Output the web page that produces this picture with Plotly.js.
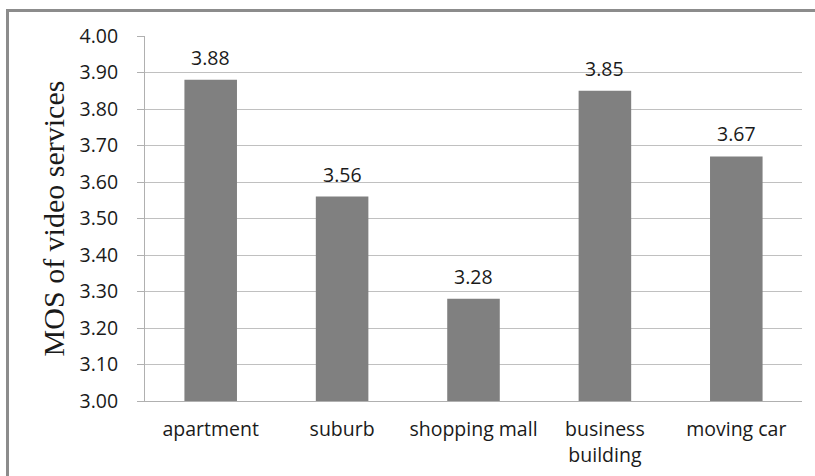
<!DOCTYPE html>
<html>
<head>
<meta charset="utf-8">
<script src="https://cdn.plot.ly/plotly-3.0.1.min.js"></script>
<style>
html,body{margin:0;padding:0;background:#fff;width:815px;height:476px;overflow:hidden;}
#frame{position:absolute;left:6px;top:9px;border-top:3px solid #8c8c8c;border-left:3px solid #8c8c8c;}
#chart{width:806px;height:464px;}
</style>
</head>
<body>
<div id="frame"><div id="chart"></div></div>
<script>
const categories = ["apartment", "suburb", "shopping mall", "business<br>building", "moving car"];
const mosValues = [3.88, 3.56, 3.28, 3.85, 3.67];
const valueLabels = ["3.88", "3.56", "3.28", "3.85", "3.67"];
const tickValues = [3.0, 3.1, 3.2, 3.3, 3.4, 3.5, 3.6, 3.7, 3.8, 3.9, 4.0];

const font = "'Open Sans', Lato, sans-serif";
const textColor = "#1a1a1a";
const fs = 19.5;

const trace = {
  type: "bar",
  x: categories,
  y: mosValues,
  marker: {color: "#808080"},
  hoverinfo: "skip"
};

const annotations = categories.map((c, i) => ({
  x: c, y: mosValues[i], xref: "x", yref: "y",
  text: valueLabels[i], showarrow: false,
  yanchor: "bottom", yshift: 7,
  font: {family: font, size: fs, color: textColor}
}));

const layout = {
  width: 806, height: 464,
  margin: {l: 136, r: 13, t: 24, b: 75},
  paper_bgcolor: "#fff", plot_bgcolor: "#fff",
  bargap: 0.6,
  showlegend: false,
  font: {family: font, size: fs, color: textColor},
  xaxis: {
    type: "category",
    showgrid: false,
    showline: true, linecolor: "#b0b0b0", linewidth: 1,
    ticks: "", ticklabelstandoff: 11,
    tickfont: {family: font, size: fs, color: textColor}
  },
  yaxis: {
    range: [3.0, 4.0],
    tickvals: tickValues,
    tickformat: ".2f",
    showgrid: true, gridcolor: "#c0c0c0", gridwidth: 1,
    showline: true, linecolor: "#b0b0b0", linewidth: 1,
    ticks: "outside", ticklen: 7, tickcolor: "#b0b0b0",
    ticklabelstandoff: 15,
    tickfont: {family: font, size: fs, color: textColor},
    zeroline: false,
    title: {text: "MOS of video services", standoff: 6,
      font: {family: "'Liberation Serif', 'Times New Roman', serif", size: 30, color: textColor}}
  },
  annotations: annotations
};

Plotly.newPlot("chart", [trace], layout, {displayModeBar: false, staticPlot: true});
</script>
</body>
</html>
